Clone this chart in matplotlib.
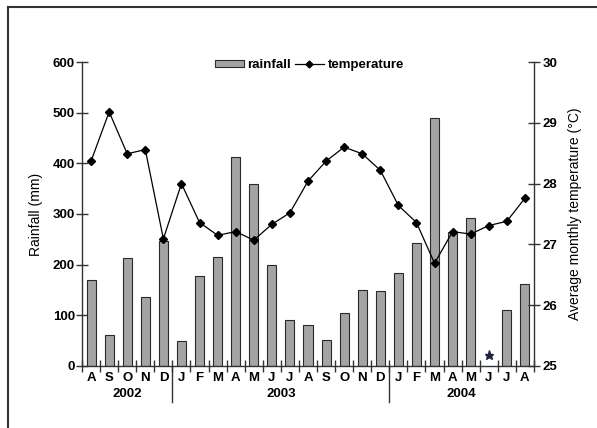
import numpy as np
import matplotlib
matplotlib.use("Agg")
import matplotlib.pyplot as plt
from matplotlib.lines import Line2D
from matplotlib.patches import Patch
import matplotlib.transforms as mtransforms

plt.rcParams['font.family'] = ['Liberation Sans', 'DejaVu Sans']

months = ['A', 'S', 'O', 'N', 'D',
          'J', 'F', 'M', 'A', 'M', 'J', 'J', 'A', 'S', 'O', 'N', 'D',
          'J', 'F', 'M', 'A', 'M', 'J', 'J', 'A']
years = ['2002', '2003', '2004']
year_spans = [(0, 4), (5, 16), (17, 24)]
rainfall = [170, 62, 214, 137, 246,
            50, 178, 215, 413, 360, 200, 90, 80, 52, 104, 150, 148,
            183, 243, 490, 265, 292, np.nan, 110, 161]
temperature = [28.37, 29.18, 28.49, 28.56, 27.09,
               28.00, 27.36, 27.15, 27.21, 27.07, 27.33, 27.52, 28.04, 28.37, 28.60, 28.49, 28.22,
               27.64, 27.36, 26.69, 27.21, 27.17, 27.31, 27.38, 27.76]
missing_index = 22

fig = plt.figure(figsize=(5.97, 4.28), dpi=100)
ax = fig.add_axes([0.1374, 0.1449, 0.757, 0.7102])
x = np.arange(len(months))

spine_c = '#333333'
bar_c = '#a4a4a4'
ax.bar(x, rainfall, width=0.5, color=bar_c, edgecolor='#2a2a2a', linewidth=0.8, zorder=2)
ax.plot([missing_index], [22], marker='*', color='#1c2240', markersize=6.5, linestyle='none', zorder=3)

ax.set_xlim(-0.5, len(months) - 0.5)
ax.set_ylim(0, 600)
ax.set_yticks([0, 100, 200, 300, 400, 500, 600])
ax.spines['top'].set_visible(False)
for s in ['left', 'bottom', 'right']:
    ax.spines[s].set_color(spine_c)
    ax.spines[s].set_linewidth(1.0)
ax.spines['right'].set_visible(False)
ax.tick_params(axis='y', direction='inout', length=9, width=1.0, color=spine_c,
               labelsize=9.5, pad=0.5)
for lab in ax.get_yticklabels():
    lab.set_fontweight('bold')
ax.set_ylabel('Rainfall (mm)', fontsize=10, labelpad=7)

# month boundaries as ticks, month names as text
ax.set_xticks(np.arange(-0.5, len(months) + 0.5, 1.0))
ax.set_xticklabels([])
ax.tick_params(axis='x', direction='inout', length=8, width=1.0, color=spine_c)
trans = mtransforms.blended_transform_factory(ax.transData, ax.transAxes)
for i, m in enumerate(months):
    ax.text(i, -0.04, m, transform=trans, ha='center', va='center',
            fontsize=9.5, fontweight='bold')
for (a, b), yname in zip(year_spans, years):
    ax.text((a + b) / 2.0, -0.092, yname, transform=trans, ha='center', va='center',
            fontsize=9.5, fontweight='bold')
for (a, b) in year_spans[1:]:
    ax.plot([a - 0.5, a - 0.5], [0, -0.118], transform=trans, color=spine_c,
            linewidth=1.0, clip_on=False)

ax2 = ax.twinx()
ax2.plot(x, temperature, color='black', linewidth=0.9, marker='D', markersize=4.2,
         markerfacecolor='black', markeredgecolor='black', zorder=4)
ax2.set_ylim(25, 30)
ax2.set_yticks([25, 26, 27, 28, 29, 30])
ax2.spines['top'].set_visible(False)
ax2.spines['left'].set_visible(False)
ax2.spines['bottom'].set_visible(False)
ax2.spines['right'].set_color(spine_c)
ax2.spines['right'].set_linewidth(1.0)
ax2.tick_params(axis='y', direction='inout', length=9, width=1.0, color=spine_c,
                labelsize=9.5, pad=1.5)
for lab in ax2.get_yticklabels():
    lab.set_fontweight('bold')
ax2.set_ylabel('Average monthly temperature (°C)', fontsize=10, labelpad=8)

handles = [Patch(facecolor=bar_c, edgecolor='#2a2a2a', linewidth=0.8),
           Line2D([0], [0], color='black', linewidth=0.9, marker='D', markersize=3.5)]
leg = fig.legend(handles, ['rainfall', 'temperature'], loc='center',
                 bbox_to_anchor=(0.518, 0.848), ncol=2, frameon=False,
                 handlelength=2.2, handleheight=0.4, handletextpad=0.3,
                 columnspacing=0.25, borderpad=0.2,
                 prop={'size': 9.5, 'weight': 'bold'})

# outer frame (left and top only)
fig.add_artist(Line2D([0.0134, 0.0134], [0.0, 0.983], transform=fig.transFigure,
                      color='#333333', linewidth=1.5))
fig.add_artist(Line2D([0.0134, 1.0], [0.983, 0.983], transform=fig.transFigure,
                      color='#333333', linewidth=1.5))

fig.savefig('out.png', dpi=100)
